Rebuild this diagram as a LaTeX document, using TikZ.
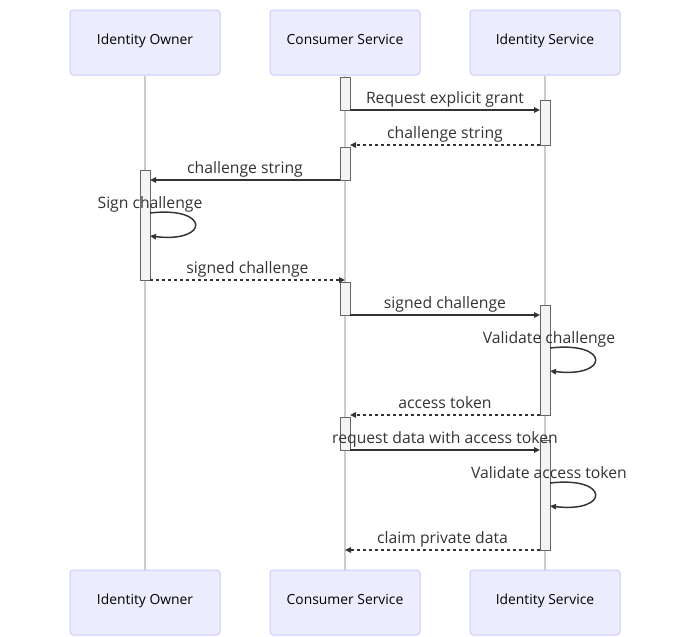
\documentclass[tikz,border=0pt]{standalone}
\usepackage{fontspec}
\setmainfont{Open Sans}
\usetikzlibrary{arrows.meta}
\definecolor{actorfill}{HTML}{ECECFF}
\definecolor{actorline}{HTML}{CCCCFF}
\definecolor{lifegray}{HTML}{CCCCCC}
\definecolor{actfill}{HTML}{F4F4F4}
\definecolor{actline}{HTML}{666666}
\definecolor{msgline}{HTML}{333333}
\tikzset{every picture/.style={line width=0.75pt}}
\tikzset{
  actor/.style={draw=actorline, fill=actorfill, rounded corners=2.5pt, minimum width=112.5pt, minimum height=48.75pt, inner sep=0pt, text=black, text height=7.5pt, text depth=5pt, font=\fontsize{10.4}{12}\selectfont},
  lifeln/.style={draw=lifegray, line width=0.9pt},
  actbox/.style={draw=actline, fill=actfill, minimum width=7.5pt, inner sep=0pt, outer sep=0pt},
  msg/.style={draw=msgline, line width=1.1pt, -{Triangle[length=4.5pt,width=4pt]}},
  reply/.style={msg, dash pattern=on 2.25pt off 2.25pt},
  msglabel/.style={anchor=base, inner sep=0pt, yshift=5.25pt, text=msgline, font=\fontsize{11.8}{14}\selectfont},
  selflabel/.style={anchor=base, inner sep=0pt, text=msgline, font=\fontsize{11.8}{14}\selectfont}
}

\begin{document}
\begin{tikzpicture}[x=0.75pt,y=0.75pt,yscale=-1,xscale=1]
\useasboundingbox (0,0) rectangle (700,636);

% Actors, top and bottom
\node[actor] (ownTop) at (145,42.5) {Identity Owner};
\node[actor] (conTop) at (345,42.5) {Consumer Service};
\node[actor] (idsTop) at (545,42.5) {Identity Service};
\node[actor] (ownBot) at (145,602.5) {Identity Owner};
\node[actor] (conBot) at (345,602.5) {Consumer Service};
\node[actor] (idsBot) at (545,602.5) {Identity Service};

% Lifelines
\draw[lifeln] (ownTop.south) -- (ownBot.north);
\draw[lifeln] (conTop.south) -- (conBot.north);
\draw[lifeln] (idsTop.south) -- (idsBot.north);

% Activations
\node[actbox, minimum height=24.75pt] (con1) at (345,93.5) {};
\node[actbox, minimum height=33.75pt] (ids1) at (545,122.5) {};
\node[actbox, minimum height=24.75pt] (con2) at (345,163.5) {};
\node[actbox, minimum height=82.5pt] (own1) at (145,225) {};
\node[actbox, minimum height=24.75pt] (con3) at (345,298.5) {};
\node[actbox, minimum height=82.5pt] (ids2) at (545,360) {};
\node[actbox, minimum height=24.75pt] (con4) at (345,433.5) {};
\node[actbox, minimum height=82.5pt] (ids3) at (545,495) {};

% Free ends on the lifelines
\coordinate (conLife1) at (345,280);
\coordinate (conLife2) at (345,550);

% Messages
\draw[msg] (con1.south east) -- node[msglabel] {Request explicit grant} (con1.south east -| ids1.west);
\draw[reply] (ids1.south west) -- node[msglabel] {challenge string} (ids1.south west -| con2.east);
\draw[msg] (con2.south west) -- node[msglabel] {challenge string} (con2.south west -| own1.east);
\draw[reply] (own1.south east) -- node[msglabel] {signed challenge} (conLife1);
\draw[msg] (con3.south east) -- node[msglabel] {signed challenge} (con3.south east -| ids2.west);
\draw[reply] (ids2.south west) -- node[msglabel] {access token} (ids2.south west -| con4.east);
\draw[msg] (con4.south east) -- node[msglabel] {request data with access token} (con4.south east -| ids3.west);
\draw[reply] (ids3.south west) -- node[msglabel] {claim private data} (conLife2);

% Self messages
\coordinate (signA) at (150,213);
\coordinate (signB) at (150,236);
\coordinate (valA) at (550,348);
\coordinate (valB) at (550,371);
\coordinate (tokA) at (550,483);
\coordinate (tokB) at (550,506);
\node[selflabel] (signTxt) at (150,208) {Sign challenge};
\draw[msg] (signA) .. controls (210,206) and (210,243) .. (signB);
\node[selflabel] (valTxt) at (549,343) {Validate challenge};
\draw[msg] (valA) .. controls (610,341) and (610,378) .. (valB);
\node[selflabel] (tokTxt) at (549,478) {Validate access token};
\draw[msg] (tokA) .. controls (610,476) and (610,513) .. (tokB);

\end{tikzpicture}
\end{document}
